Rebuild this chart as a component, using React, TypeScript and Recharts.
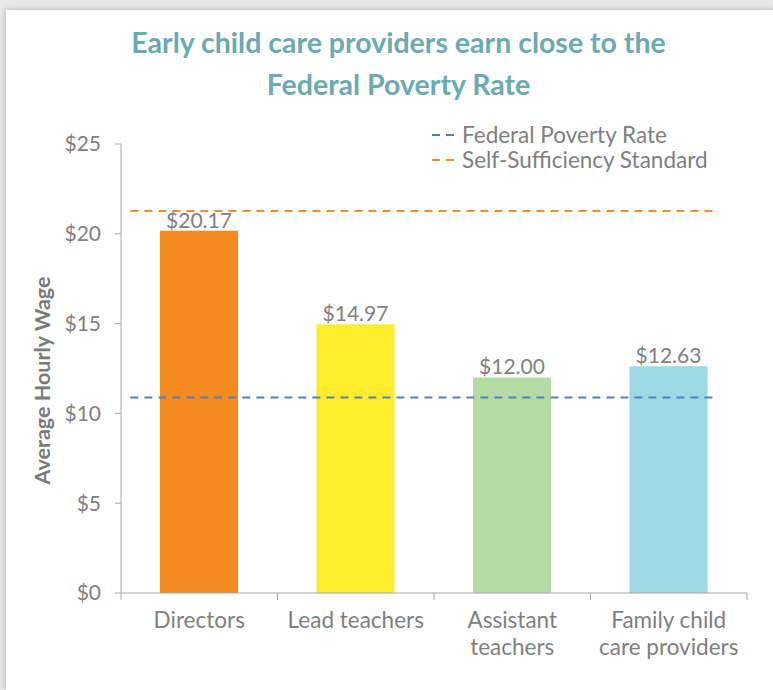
import React from 'react';
import {
  ComposedChart,
  Bar,
  Cell,
  Line,
  XAxis,
  YAxis,
  Legend,
  LabelList,
} from 'recharts';

const categories = ['Directors', 'Lead teachers', 'Assistant\nteachers', 'Family child\ncare providers'];
const wages = [20.17, 14.97, 12.0, 12.63];
const barColors = ['#F58B1F', '#FCEC2B', '#B3DBA3', '#9DD8E5'];
const yTicks = [0, 5, 10, 15, 20, 25];

const povertyRate = 10.88;
const selfSufficiency = 21.27;
// where the two dashed lines start and stop, in category units (0..4)
const lineSpan = [0.06, 3.78];

const barData = categories.map((name, i) => ({ name, wage: wages[i] }));
const lineData = lineSpan.map((pos) => ({ pos, poverty: povertyRate, selfSuff: selfSufficiency }));

const FONT = 'Lato, "Open Sans", sans-serif';
const GRAY = '#7f7f7f';
const AXIS = '#a6a6a6';

const CategoryTick = (props: any) => {
  const { x, y, payload, index, visibleTicksCount } = props;
  const half = payload && typeof payload.offset === 'number' && payload.offset > 0 ? payload.offset : 78.25;
  const lines = String(payload.value).split('\n');
  const axisY = y - 7;
  return (
    <g>
      <line x1={x - half} x2={x - half} y1={axisY} y2={axisY + 7} stroke={AXIS} />
      {index === visibleTicksCount - 1 && (
        <line x1={x + half} x2={x + half} y1={axisY} y2={axisY + 7} stroke={AXIS} />
      )}
      <text x={x} y={y} textAnchor="middle" fill={GRAY} fontSize={22.5} fontFamily={FONT}>
        {lines.map((l, i) => (
          <tspan key={i} x={x} dy={i === 0 ? 28 : 27}>
            {l}
          </tspan>
        ))}
      </text>
    </g>
  );
};

const renderLegend = (props: any) => {
  const payload = (props.payload || []).filter((e: any) => e.type !== 'none');
  return (
    <div style={{ fontFamily: FONT, fontSize: 22.5, color: GRAY }}>
      {payload.map((entry: any) => (
        <div key={entry.value} style={{ display: 'flex', alignItems: 'center', height: 25, whiteSpace: 'nowrap' }}>
          <svg width={30} height={10} style={{ marginRight: 2 }}>
            <line x1={2} x2={26} y1={5} y2={5} stroke={entry.color} strokeWidth={2} strokeDasharray="8 6" />
          </svg>
          <span>{entry.value}</span>
        </div>
      ))}
    </div>
  );
};

const YLabel = (props: any) => {
  const { viewBox } = props;
  const cx = 42;
  const cy = viewBox.y + viewBox.height / 2 + 12;
  return (
    <text
      x={cx}
      y={cy}
      transform={`rotate(-90 ${cx} ${cy})`}
      textAnchor="middle"
      dominantBaseline="central"
      fill="#7a7a7a"
      fontSize={21.5}
      fontWeight="bold"
      fontFamily={FONT}
    >
      Average Hourly Wage
    </text>
  );
};

export default function App() {
  return (
    <div style={{ position: 'absolute', left: 0, top: 0, width: 773, height: 690, background: '#e8e8e8', overflow: 'hidden' }}>
      <div
        style={{
          position: 'absolute',
          left: 6,
          top: 10,
          right: 0,
          bottom: 0,
          background: '#fff',
          boxShadow: '0 0 6px rgba(0,0,0,0.25)',
        }}
      />
      <div
        style={{
          position: 'absolute',
          left: 24,
          top: 21,
          width: 749,
          textAlign: 'center',
          fontFamily: FONT,
          fontSize: 28.5,
          lineHeight: '42px',
          fontWeight: 'bold',
          color: '#6AAAB0',
        }}
      >
        Early child care providers earn close to the
        <br />
        Federal Poverty Rate
      </div>
      <div style={{ position: 'absolute', left: 0, top: 0 }}>
        <ComposedChart width={773} height={690} data={barData} margin={{ top: 144, right: 26, bottom: 0, left: 0 }}>
          <XAxis
            xAxisId="cat"
            dataKey="name"
            axisLine={{ stroke: AXIS }}
            tickLine={false}
            tickSize={7}
            tickMargin={0}
            interval={0}
            height={97}
            tick={<CategoryTick />}
          />
          <XAxis xAxisId="span" type="number" dataKey="pos" domain={[0, 4]} allowDataOverflow hide />
          <YAxis
            domain={[0, 25]}
            ticks={yTicks}
            width={121}
            axisLine={{ stroke: AXIS }}
            tickLine={{ stroke: AXIS }}
            tickSize={6}
            tickMargin={14}
            tickFormatter={(v) => `$${v}`}
            tick={{ fill: GRAY, fontSize: 21, fontFamily: FONT }}
            label={<YLabel />}
          />
          <Legend
            layout="vertical"
            align="center"
            verticalAlign="middle"
            wrapperStyle={{ top: 122, left: 430, width: 330 }}
            content={renderLegend}
          />
          <Bar xAxisId="cat" dataKey="wage" barSize={78} isAnimationActive={false} legendType="none">
            {barData.map((d, i) => (
              <Cell key={d.name} fill={barColors[i]} />
            ))}
            <LabelList
              dataKey="wage"
              position="top"
              offset={3}
              formatter={(v: any) => `$${Number(v).toFixed(2)}`}
              style={{ fill: GRAY, fontSize: 21, fontFamily: FONT }}
            />
          </Bar>
          <Line
            xAxisId="span"
            data={lineData}
            dataKey="poverty"
            name="Federal Poverty Rate"
            stroke="#4F81BD"
            strokeWidth={2}
            strokeDasharray="8 6"
            dot={false}
            isAnimationActive={false}
          />
          <Line
            xAxisId="span"
            data={lineData}
            dataKey="selfSuff"
            name="Self-Sufficiency Standard"
            stroke="#F58B2A"
            strokeWidth={2}
            strokeDasharray="8 6"
            dot={false}
            isAnimationActive={false}
          />
        </ComposedChart>
      </div>
    </div>
  );
}
